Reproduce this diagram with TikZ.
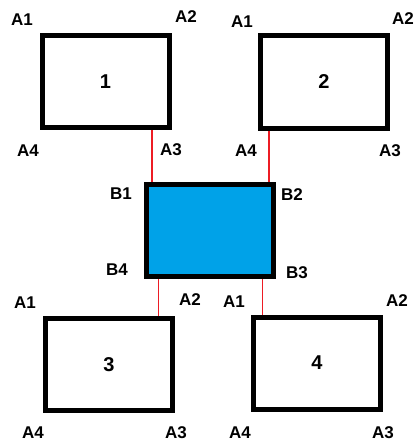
\documentclass[tikz,border=0pt]{standalone}
\usepackage{fontspec}
\setmainfont{Liberation Sans}
\usetikzlibrary{positioning,calc}
\definecolor{paintblue}{RGB}{0,162,232}
\definecolor{wirered}{RGB}{237,28,36}

\begin{document}
\begin{tikzpicture}[
  x=1pt,y=-1pt,
  blk/.style={
    draw=black,
    line width=5pt,
    minimum width=127pt,
    minimum height=92pt,
    inner sep=0pt,
    font=\bfseries\fontsize{20}{20}\selectfont
  },
  pin/.style={
    inner sep=0pt,
    font=\bfseries\fontsize{17}{17}\selectfont
  },
  link/.style={
    draw=wirered,
    line width=1.4pt
  }
]
\useasboundingbox (0,0) rectangle (417,444);

% boxes
\node[blk] (b1) at (105.5,81.5) {1};
\node[blk] (b2) at (324,82) {2};
\node[blk,fill=paintblue] (bc) at (209.5,230.5) {};
\node[blk] (b3) at (109,364.5) {3};
\node[blk] (b4) at (317,363) {4};

% corner labels
\node[pin] (b1a1) at (22,20) {A1};
\node[pin] (b1a2) at (186,17) {A2};
\node[pin] (b1a3) at (171,150) {A3};
\node[pin] (b1a4) at (28,151) {A4};

\node[pin] (b2a1) at (242,22) {A1};
\node[pin] (b2a2) at (403,19) {A2};
\node[pin] (b2a3) at (390,151) {A3};
\node[pin] (b2a4) at (246,151) {A4};

\node[pin] (bcb1) at (121,194) {B1};
\node[pin] (bcb2) at (292,195) {B2};
\node[pin] (bcb3) at (297,273) {B3};
\node[pin] (bcb4) at (117,270) {B4};

\node[pin] (b3a1) at (25,303) {A1};
\node[pin] (b3a2) at (190,300) {A2};
\node[pin] (b3a3) at (176,433) {A3};
\node[pin] (b3a4) at (33,433) {A4};

\node[pin] (b4a1) at (234,302) {A1};
\node[pin] (b4a2) at (397,301) {A2};
\node[pin] (b4a3) at (383,433) {A3};
\node[pin] (b4a4) at (240,433) {A4};

% wires
\coordinate (w1) at (152,0);
\coordinate (w2) at (269,0);
\coordinate (w3) at (158.5,0);
\coordinate (w4) at (262.5,0);
\draw[link] (w1 |- b1.south) -- (w1 |- bc.north);
\draw[link] (w2 |- b2.south) -- (w2 |- bc.north);
\draw[link] (w3 |- bc.south) -- (w3 |- b3.north);
\draw[link] (w4 |- bc.south) -- (w4 |- b4.north);
\end{tikzpicture}
\end{document}
